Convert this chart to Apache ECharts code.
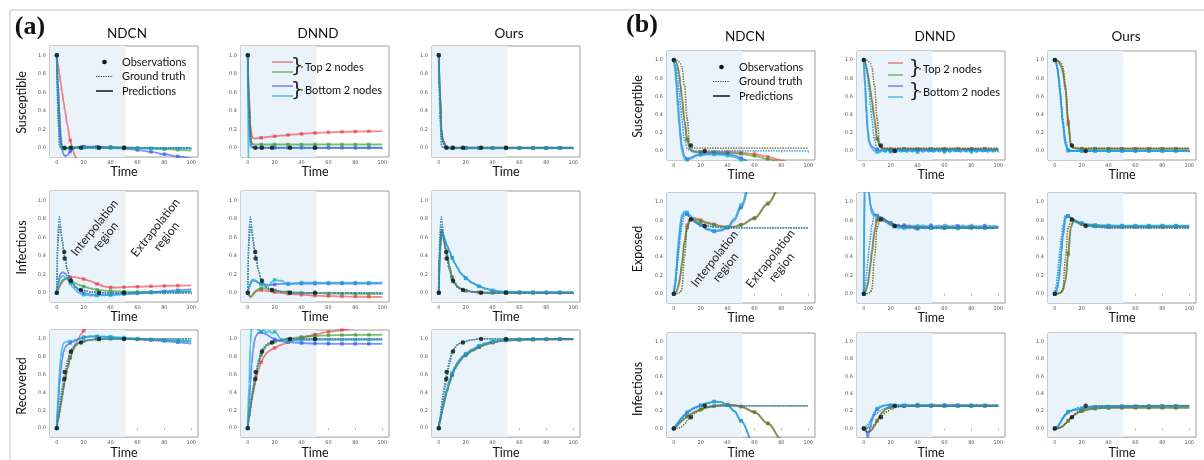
<!DOCTYPE html>
<html><head><meta charset="utf-8">
<script src="https://cdn.jsdelivr.net/npm/echarts@6/dist/echarts.min.js"></script>
<style>html,body{margin:0;padding:0;background:#fff}#c{width:1204px;height:460px}</style>
</head><body><div id="c"></div>
<script>
// ---------- time grids ----------
const T  = [0,1,2,3,4,5,6,8,10,12,14,16,18,20,25,30,35,40,45,50,60,70,80,90,100];
const TJ = [0,1,2,3,4,5,6,7,8,9,10,12,14,16,18,20,22,24,26,28,30,32,34,36,38,40,42,44,46,48,50,52,54,56,58,60,62,64,66,68,70,72,74,76,78,80,82,84,86,88,90,92,94,96,98,100];
const X_TICKS = [0,20,40,60,80,100];
const Y_TICKS = [0,0.2,0.4,0.6,0.8,1.0];
const SHADE_RANGE = [-5, 51];
const COL_TITLES = ['NDCN','DNND','Ours'];
const ROW_TITLES_A = ['Susceptible','Infectious','Recovered'];
const ROW_TITLES_B = ['Susceptible','Exposed','Infectious'];

// ---------- panel (a) ground truth & observations ----------
const aS_gtRG = [1,0.55,0.2,0.06,0.015,0,0,0,0,0,0,0,0,0,0,0,0,0,0,0,0,0,0,0,0];
const aS_gtBC = [1,0.3,0.03,0,0,0,0,0,0,0,0,0,0,0,0,0,0,0,0,0,0,0,0,0,0];
const aI_gtRG = [0,0.55,0.72,0.67,0.56,0.46,0.38,0.24,0.14,0.09,0.06,0.045,0.035,0.025,0.01,0.003,0,0,0,0,0,0,0,0,0];
const aI_gtBC = [0,0.7,0.82,0.71,0.58,0.47,0.39,0.24,0.14,0.09,0.06,0.045,0.035,0.025,0.01,0.003,0,0,0,0,0,0,0,0,0];
const aR_gtRG = [0,0.1,0.2,0.3,0.4,0.48,0.56,0.72,0.84,0.9,0.93,0.95,0.965,0.975,0.99,1,1,1,1,1,1,1,1,1,1];
const aR_gtBC = [0,0.12,0.25,0.36,0.46,0.55,0.63,0.76,0.86,0.91,0.94,0.955,0.965,0.975,0.99,1,1,1,1,1,1,1,1,1,1];
const aS_obs = [[0,1],[5.7,0],[10.6,0],[18,0],[31.5,0],[50,0]];
const aI_obs = [[0,0],[5.6,0.44],[5.9,0.37],[10.6,0.13],[18,0.03],[31.5,0],[50,0]];
const aR_obs = [[0,0],[5.6,0.55],[5.9,0.63],[10.6,0.86],[18,0.96],[31.5,1],[50,1]];

// ---------- panel (a) NDCN ----------
const aN_S_red   = [1,0.9,0.8,0.7,0.6,0.5,0.41,0.24,0.08,-0.03,-0.1,-0.16,-0.22,-0.28,-0.4,-0.5,-0.6,-0.7,-0.8,-0.9,-1,-1.1,-1.2,-1.3,-1.4];
const aN_S_green = [1,0.6,0.25,0.06,-0.01,-0.02,-0.02,-0.01,0,0.005,0.008,0.01,0.01,0.01,0.01,0.01,0.01,0.01,0.008,0.005,0,-0.008,-0.015,-0.022,-0.03];
const aN_S_blue  = [1,0.7,0.4,0.15,-0.02,-0.07,-0.09,-0.08,-0.04,-0.015,0,0.008,0.01,0.012,0.012,0.01,0.007,0.003,-0.002,-0.008,-0.025,-0.045,-0.07,-0.093,-0.12];
const aN_S_cyan  = [1,0.45,0.1,-0.01,-0.02,-0.015,-0.01,-0.005,0,0,0,0,0,0,0,-0.003,-0.005,-0.005,-0.006,-0.008,-0.01,-0.01,-0.01,-0.01,-0.01];
const aN_I_red   = [0,0.03,0.06,0.09,0.11,0.13,0.145,0.16,0.168,0.17,0.168,0.162,0.155,0.148,0.125,0.095,0.07,0.057,0.057,0.06,0.065,0.07,0.074,0.077,0.08];
const aN_I_green = [0,0.04,0.08,0.11,0.13,0.145,0.15,0.15,0.14,0.12,0.1,0.087,0.077,0.068,0.047,0.032,0.024,0.018,0.015,0.012,0.01,0.01,0.01,0.01,0.01];
const aN_I_blue  = [0,0.1,0.17,0.21,0.22,0.22,0.21,0.18,0.14,0.1,0.065,0.035,0.012,-0.003,-0.018,-0.022,-0.022,-0.02,-0.016,-0.012,-0.004,0.006,0.016,0.028,0.04];
const aN_I_cyan  = [0,0.08,0.14,0.17,0.18,0.18,0.17,0.14,0.1,0.06,0.03,0.005,-0.012,-0.022,-0.03,-0.03,-0.028,-0.025,-0.02,-0.015,-0.008,0,0.008,0.014,0.02];
const aN_R_red   = [0,0.09,0.18,0.27,0.36,0.45,0.53,0.67,0.79,0.88,0.95,1,1.05,1.09,1.2,1.3,1.4,1.5,1.6,1.7,1.8,1.9,2,2.1,2.2];
const aN_R_green = [0,0.08,0.16,0.25,0.34,0.43,0.52,0.67,0.79,0.87,0.92,0.95,0.965,0.975,0.99,0.995,1,1,1,1,0.995,0.99,0.985,0.98,0.975];
const aN_R_blue  = [0,0.25,0.48,0.65,0.77,0.85,0.9,0.935,0.955,0.97,0.985,0.995,1.005,1.015,1.025,1.025,1.022,1.018,1.012,1.006,0.997,0.987,0.976,0.962,0.945];
const aN_R_cyan  = [0,0.35,0.62,0.8,0.9,0.95,0.965,0.97,0.97,0.975,0.99,1,1.01,1.02,1.03,1.03,1.028,1.025,1.02,1.015,1.005,0.995,0.985,0.977,0.97];

// ---------- panel (a) DNND ----------
const aD_S_red   = [1,0.55,0.25,0.13,0.105,0.1,0.1,0.104,0.108,0.112,0.115,0.118,0.121,0.124,0.131,0.138,0.144,0.15,0.155,0.16,0.166,0.171,0.175,0.178,0.18];
const aD_S_green = [1,0.45,0.12,0.05,0.04,0.036,0.035,0.035,0.035,0.035,0.035,0.035,0.035,0.035,0.035,0.035,0.035,0.035,0.035,0.035,0.035,0.035,0.035,0.035,0.035];
const aD_S_blue  = [1,0.3,0.05,0.012,0.005,0.002,0,0,0,0,0,0,0,0,0,0,0,0,0,0,0,0,0,0,0];
const aD_S_cyan  = [1,-0.7,-1,-1,-1,-1,-1,-1,-1,-1,-1,-1,-1,-1,-1,-1,-1,-1,-1,-1,-1,-1,-1,-1,-1];
const aD_I_red   = [0,-0.03,-0.04,-0.03,-0.012,0.003,0.013,0.024,0.028,0.026,0.021,0.016,0.011,0.006,-0.003,-0.01,-0.016,-0.021,-0.026,-0.03,-0.036,-0.04,-0.042,-0.044,-0.045];
const aD_I_green = [0,-0.03,-0.05,-0.04,-0.02,0,0.02,0.04,0.05,0.05,0.045,0.038,0.031,0.025,0.015,0.009,0.004,0,-0.003,-0.005,-0.008,-0.01,-0.011,-0.012,-0.012];
const aD_I_blue  = [0,0.05,0.09,0.12,0.13,0.13,0.125,0.11,0.1,0.092,0.087,0.085,0.087,0.09,0.095,0.099,0.1,0.1,0.1,0.1,0.1,0.1,0.1,0.1,0.1];
const aD_I_cyan  = [0,0.06,0.11,0.14,0.145,0.14,0.13,0.11,0.09,0.076,0.07,0.08,0.12,0.14,0.13,0.09,0.1,0.11,0.11,0.11,0.11,0.11,0.11,0.11,0.11];
const aD_R_red   = [0,0.12,0.22,0.32,0.4,0.47,0.54,0.65,0.74,0.8,0.84,0.865,0.885,0.9,0.935,0.965,0.99,1.01,1.03,1.05,1.08,1.1,1.12,1.14,1.16];
const aD_R_green = [0,0.12,0.24,0.34,0.44,0.52,0.6,0.72,0.82,0.88,0.92,0.94,0.955,0.968,0.985,1,1.012,1.022,1.03,1.035,1.04,1.043,1.045,1.046,1.047];
const aD_R_blue  = [0,0.25,0.5,0.72,0.88,0.98,1.03,1.07,1.075,1.065,1.05,1.03,1.01,0.995,0.975,0.965,0.958,0.953,0.95,0.948,0.946,0.945,0.945,0.945,0.945];
const aD_R_cyan  = [0,0.5,0.95,1.15,1.2,1.18,1.15,1.1,1.08,1.1,1.07,1.09,1.06,1.08,1,0.97,0.98,0.985,0.988,0.99,0.99,0.99,0.99,0.99,0.99];

// ---------- panel (a) Ours ----------
const aO_S_red   = [1,0.6,0.2,0.1,0.06,0.03,0.01,0,0,0,0,0,0,0,0,0,0,0,0,0,0,0,0,0,0];
const aO_S_green = [1,0.58,0.18,0.09,0.05,0.025,0.01,0.002,0,0,0,0,0,0,0,0,0,0,0,0,0,0,0,0,0];
const aO_S_blue  = [1,0.55,0.13,0.08,0.05,0.02,0,-0.005,-0.005,-0.005,-0.005,-0.005,-0.005,-0.005,-0.005,-0.005,-0.005,-0.005,-0.005,-0.005,-0.005,-0.005,-0.005,-0.005,-0.005];
const aO_S_cyan  = [1,0.5,0.1,0.07,0.04,0.015,0,-0.006,-0.006,-0.006,-0.006,-0.006,-0.006,-0.006,-0.006,-0.006,-0.006,-0.006,-0.006,-0.006,-0.006,-0.006,-0.006,-0.006,-0.006];
const aO_I_red   = [0,0.45,0.66,0.62,0.55,0.48,0.42,0.28,0.16,0.1,0.065,0.045,0.03,0.02,0.01,0.003,0,0,0,0,0,0,0,0,0];
const aO_I_green = [0,0.45,0.67,0.63,0.56,0.49,0.43,0.29,0.17,0.11,0.07,0.05,0.035,0.025,0.012,0.004,0.001,0,0,0,0,0,0,0,0];
const aO_I_blue  = [0,0.5,0.68,0.64,0.6,0.56,0.52,0.45,0.38,0.32,0.27,0.22,0.19,0.16,0.11,0.07,0.045,0.025,0.015,0.01,0.006,0.005,0.005,0.005,0.005];
const aO_I_cyan  = [0,0.48,0.67,0.635,0.595,0.555,0.515,0.445,0.375,0.315,0.265,0.215,0.185,0.155,0.105,0.068,0.043,0.024,0.014,0.009,0.006,0.005,0.005,0.005,0.005];
const aO_R_red   = [0,0.08,0.15,0.22,0.29,0.35,0.41,0.51,0.6,0.67,0.72,0.76,0.8,0.82,0.87,0.91,0.94,0.96,0.975,0.985,0.99,0.993,0.995,0.995,0.995];
const aO_R_green = [0,0.08,0.15,0.22,0.28,0.34,0.4,0.5,0.59,0.66,0.71,0.755,0.79,0.815,0.865,0.905,0.935,0.958,0.972,0.982,0.988,0.991,0.993,0.994,0.994];
const aO_R_blue  = [0,0.09,0.17,0.24,0.31,0.37,0.43,0.53,0.61,0.68,0.73,0.77,0.805,0.83,0.88,0.92,0.95,0.97,0.98,0.99,0.995,1,1,1,1];
const aO_R_cyan  = [0,0.09,0.17,0.24,0.31,0.37,0.43,0.53,0.62,0.69,0.74,0.78,0.81,0.835,0.885,0.925,0.953,0.972,0.982,0.99,0.995,1,1,1,1];

// ---------- panel (b) ground truth & observations ----------
const bS_gtRG = [1,1,1,0.99,0.98,0.96,0.93,0.72,0.35,0.06,0.03,0.03,0.03,0.03,0.03,0.03,0.03,0.03,0.03,0.03,0.03,0.03,0.03,0.03,0.03];
const bS_gtBC = [1,0.97,0.9,0.8,0.66,0.5,0.35,0.12,0.03,0.005,0,0,0,0,0,0,0,0,0,0,0,0,0,0,0];
const bE_gtRG = [0,0,0.002,0.005,0.01,0.02,0.05,0.4,0.72,0.8,0.81,0.79,0.775,0.762,0.742,0.73,0.725,0.72,0.72,0.72,0.72,0.72,0.72,0.72,0.72];
const bE_gtBC = [0,0.08,0.2,0.35,0.5,0.63,0.74,0.86,0.86,0.83,0.8,0.78,0.765,0.752,0.737,0.728,0.722,0.72,0.72,0.72,0.72,0.72,0.72,0.72,0.72];
const bI_gtRG = [0,0,0.001,0.003,0.006,0.01,0.02,0.05,0.09,0.12,0.15,0.18,0.2,0.22,0.245,0.255,0.26,0.26,0.26,0.26,0.26,0.26,0.26,0.26,0.26];
const bI_gtBC = [0,0.01,0.03,0.05,0.07,0.09,0.11,0.15,0.18,0.2,0.22,0.232,0.242,0.248,0.255,0.26,0.26,0.26,0.26,0.26,0.26,0.26,0.26,0.26,0.26];
const bS_obs = [[0,1],[12.8,0.06],[23,0]];
const bE_obs = [[0,0],[12.8,0.81],[23,0.74]];
const bI_obs = [[0,0],[12.8,0.13],[23,0.26]];

// ---------- panel (b) NDCN ----------
const bN_S_red   = [1,0.99,0.97,0.93,0.85,0.74,0.6,0.34,0.13,0.03,0,-0.008,-0.01,-0.01,-0.01,-0.01,-0.01,-0.01,-0.013,-0.018,-0.035,-0.065,-0.105,-0.15,-0.2];
const bN_S_green = [1,0.99,0.97,0.92,0.84,0.72,0.58,0.32,0.12,0.02,-0.008,-0.014,-0.016,-0.017,-0.018,-0.019,-0.02,-0.022,-0.026,-0.032,-0.055,-0.09,-0.13,-0.18,-0.23];
const bN_S_blue  = [1,0.93,0.78,0.58,0.38,0.2,0.06,-0.06,-0.09,-0.08,-0.065,-0.05,-0.04,-0.035,-0.03,-0.03,-0.032,-0.036,-0.05,-0.08,-0.16,-0.25,-0.35,-0.45,-0.55];
const bN_S_cyan  = [1,0.9,0.7,0.48,0.28,0.12,0,-0.09,-0.1,-0.09,-0.075,-0.06,-0.05,-0.045,-0.04,-0.04,-0.044,-0.052,-0.068,-0.1,-0.18,-0.27,-0.37,-0.47,-0.57];
const bN_E_red   = [0,0.01,0.03,0.07,0.13,0.22,0.34,0.58,0.75,0.82,0.83,0.825,0.815,0.805,0.78,0.76,0.74,0.73,0.735,0.755,0.83,0.99,1.2,1.4,1.6];
const bN_E_green = [0,0.01,0.03,0.06,0.11,0.19,0.3,0.55,0.72,0.8,0.82,0.81,0.8,0.79,0.77,0.75,0.735,0.725,0.73,0.75,0.82,0.98,1.19,1.4,1.6];
const bN_E_blue  = [0,0.1,0.25,0.42,0.58,0.72,0.83,0.88,0.87,0.84,0.81,0.78,0.76,0.75,0.7,0.68,0.69,0.72,0.8,0.94,1.4,1.9,2.4,2.9,3.4];
const bN_E_cyan  = [0,0.12,0.3,0.5,0.66,0.78,0.86,0.9,0.89,0.86,0.83,0.8,0.77,0.755,0.71,0.69,0.7,0.73,0.82,0.97,1.45,1.95,2.45,2.95,3.45];
const bN_I_red   = [0,0.015,0.03,0.045,0.06,0.075,0.09,0.115,0.14,0.16,0.18,0.195,0.21,0.22,0.245,0.26,0.27,0.275,0.27,0.255,0.19,0.06,-0.12,-0.35,-0.6];
const bN_I_green = [0,0.012,0.025,0.04,0.055,0.07,0.085,0.11,0.135,0.155,0.175,0.19,0.2,0.215,0.24,0.255,0.265,0.27,0.265,0.25,0.185,0.055,-0.13,-0.36,-0.62];
const bN_I_blue  = [0,0.02,0.04,0.06,0.08,0.1,0.12,0.15,0.18,0.205,0.225,0.24,0.255,0.265,0.29,0.31,0.305,0.27,0.2,0.09,-0.2,-0.6,-1,-1.4,-1.8];
const bN_I_cyan  = [0,0.025,0.05,0.07,0.09,0.11,0.13,0.16,0.19,0.21,0.23,0.245,0.258,0.268,0.292,0.31,0.303,0.268,0.198,0.088,-0.2,-0.6,-1,-1.4,-1.8];

// ---------- panel (b) DNND (blue/cyan sampled on TJ) ----------
const bD_S_red   = [1,0.98,0.93,0.86,0.77,0.67,0.57,0.36,0.14,0.05,0.03,0.025,0.022,0.02,0.022,0.02,0.023,0.02,0.022,0.02,0.021,0.02,0.022,0.02,0.021];
const bD_S_green = [1,0.97,0.92,0.84,0.75,0.65,0.55,0.34,0.13,0.045,0.028,0.022,0.02,0.018,0.02,0.017,0.021,0.018,0.02,0.018,0.02,0.019,0.02,0.018,0.02];
const bD_S_blue  = [1,0.7,0.4,0.2,0.1,0.07,0.05,0.04,0.03,0.02,0.015,0.003,0.02,0,0.022,-0.002,0.018,0.004,0.02,-0.001,0.021,0.002,0.019,-0.003,0.02,0.001,0.022,-0.001,0.018,0.003,0.02,0,0.021,-0.002,0.019,0.002,0.02,-0.001,0.022,0.001,0.018,0,0.02,-0.002,0.021,0.002,0.019,0,0.02,-0.001,0.022,0.001,0.018,0,0.02,0.005];
const bD_S_cyan  = [1,0.8,0.5,0.25,0.12,0.06,0.03,0.01,0,-0.01,-0.015,-0.012,0.008,-0.015,0.01,-0.01,0.006,-0.014,0.009,-0.011,0.007,-0.013,0.01,-0.01,0.008,-0.015,0.006,-0.012,0.009,-0.01,0.007,-0.014,0.01,-0.011,0.008,-0.012,0.006,-0.015,0.009,-0.01,0.007,-0.013,0.01,-0.011,0.008,-0.012,0.006,-0.014,0.009,-0.01,0.007,-0.013,0.008,-0.011,0.009,-0.01];
const bD_E_red   = [0,0.02,0.06,0.12,0.22,0.34,0.47,0.7,0.82,0.84,0.83,0.81,0.79,0.775,0.75,0.735,0.73,0.725,0.73,0.72,0.728,0.722,0.73,0.72,0.725];
const bD_E_green = [0,0.02,0.05,0.1,0.19,0.3,0.43,0.66,0.8,0.83,0.825,0.805,0.785,0.77,0.745,0.73,0.725,0.72,0.726,0.716,0.724,0.718,0.726,0.717,0.72];
const bD_E_blue  = [0,1.5,1.4,1.2,1.08,0.98,0.92,0.89,0.87,0.86,0.855,0.84,0.82,0.8,0.785,0.77,0.75,0.72,0.755,0.718,0.75,0.715,0.748,0.72,0.745,0.71,0.745,0.72,0.742,0.716,0.748,0.712,0.745,0.72,0.74,0.715,0.748,0.718,0.745,0.712,0.742,0.72,0.748,0.715,0.744,0.718,0.745,0.712,0.742,0.72,0.745,0.716,0.743,0.718,0.74,0.72];
const bD_E_cyan  = [0,1.6,1.6,1.3,1.1,0.95,0.88,0.86,0.865,0.855,0.85,0.83,0.81,0.795,0.78,0.765,0.72,0.75,0.71,0.745,0.715,0.75,0.712,0.745,0.705,0.742,0.718,0.748,0.71,0.745,0.715,0.742,0.712,0.748,0.71,0.745,0.715,0.742,0.708,0.748,0.712,0.745,0.715,0.74,0.71,0.745,0.714,0.742,0.71,0.745,0.715,0.742,0.712,0.744,0.716,0.74];
const bD_I_red   = [0,-0.02,-0.035,-0.04,-0.035,-0.025,-0.01,0.03,0.09,0.15,0.19,0.22,0.24,0.25,0.258,0.262,0.26,0.264,0.26,0.263,0.26,0.264,0.26,0.263,0.26];
const bD_I_green = [0,-0.02,-0.04,-0.045,-0.04,-0.03,-0.015,0.025,0.085,0.145,0.185,0.215,0.235,0.245,0.255,0.258,0.256,0.26,0.257,0.26,0.256,0.26,0.257,0.26,0.256];
const bD_I_blue  = [0,0,-0.02,-0.15,-0.05,0.02,0.08,0.13,0.17,0.2,0.22,0.24,0.26,0.265,0.27,0.268,0.258,0.272,0.26,0.27,0.256,0.274,0.26,0.27,0.258,0.275,0.262,0.27,0.257,0.272,0.26,0.276,0.258,0.27,0.26,0.273,0.256,0.27,0.261,0.274,0.258,0.27,0.26,0.272,0.257,0.27,0.26,0.273,0.258,0.27,0.26,0.272,0.257,0.27,0.26,0.268];
const bD_I_cyan  = [0,0,0,0.01,0.04,0.08,0.12,0.16,0.19,0.21,0.23,0.25,0.26,0.262,0.268,0.265,0.27,0.258,0.272,0.26,0.27,0.256,0.272,0.26,0.274,0.258,0.27,0.26,0.273,0.257,0.27,0.26,0.272,0.258,0.27,0.26,0.274,0.257,0.27,0.26,0.272,0.258,0.27,0.26,0.273,0.257,0.27,0.26,0.272,0.258,0.27,0.26,0.272,0.258,0.27,0.262];

// ---------- panel (b) Ours ----------
const bO_S_red   = [1,1,0.99,0.98,0.96,0.93,0.88,0.7,0.32,0.08,0.035,0.028,0.026,0.025,0.025,0.025,0.025,0.025,0.025,0.025,0.025,0.025,0.025,0.025,0.025];
const bO_S_green = [1,1,0.99,0.975,0.955,0.92,0.86,0.66,0.29,0.07,0.032,0.026,0.024,0.023,0.023,0.023,0.023,0.023,0.023,0.023,0.023,0.023,0.023,0.023,0.023];
const bO_S_blue  = [1,0.98,0.92,0.82,0.66,0.5,0.32,0.08,0.005,0,0,0,0,0,0,0,0,0,0,0,0,0,0,0,0];
const bO_S_cyan  = [1,0.97,0.9,0.78,0.62,0.45,0.28,0.06,0.002,-0.002,-0.002,-0.002,-0.002,-0.002,-0.002,-0.002,-0.002,-0.002,-0.002,-0.002,-0.002,-0.002,-0.002,-0.002,-0.002];
const bO_E_red   = [0,0,0.003,0.006,0.01,0.02,0.04,0.15,0.45,0.74,0.8,0.79,0.775,0.765,0.75,0.74,0.735,0.73,0.73,0.73,0.73,0.73,0.73,0.73,0.73];
const bO_E_green = [0,0,0.003,0.006,0.01,0.02,0.04,0.14,0.43,0.72,0.79,0.785,0.77,0.76,0.745,0.735,0.73,0.728,0.727,0.727,0.727,0.727,0.727,0.727,0.727];
const bO_E_blue  = [0,0.02,0.06,0.14,0.28,0.45,0.62,0.82,0.85,0.83,0.81,0.795,0.782,0.772,0.758,0.75,0.746,0.745,0.745,0.745,0.745,0.745,0.745,0.745,0.745];
const bO_E_cyan  = [0,0.02,0.07,0.16,0.31,0.48,0.65,0.84,0.85,0.825,0.805,0.79,0.778,0.768,0.755,0.748,0.745,0.743,0.742,0.742,0.742,0.742,0.742,0.742,0.742];
const bO_I_red   = [0,0,0,0.005,0.01,0.02,0.03,0.06,0.09,0.12,0.15,0.17,0.19,0.2,0.22,0.23,0.235,0.238,0.24,0.24,0.24,0.24,0.24,0.24,0.24];
const bO_I_green = [0,0,0,0.004,0.009,0.018,0.028,0.057,0.088,0.118,0.148,0.168,0.187,0.198,0.218,0.228,0.233,0.236,0.237,0.238,0.238,0.238,0.238,0.238,0.238];
const bO_I_blue  = [0,0,0.01,0.03,0.06,0.09,0.12,0.16,0.19,0.2,0.21,0.215,0.22,0.225,0.235,0.245,0.25,0.25,0.252,0.255,0.255,0.258,0.26,0.26,0.26];
const bO_I_cyan  = [0,0,0.012,0.035,0.065,0.095,0.125,0.165,0.195,0.205,0.213,0.218,0.223,0.228,0.238,0.247,0.252,0.253,0.255,0.257,0.258,0.26,0.262,0.262,0.262];

// ---------- styling / layout ----------
const COLORS = {red:'#e8262b', green:'#2a972a', blue:'#2a48ff', cyan:'#18b6cc'};
const OPAC = {red:0.55, green:0.62, blue:0.6, cyan:0.72};
const ORDER = ['red','green','blue','cyan'];
const SHADE = '#eaf2fa';
const FONT = 'Lato';
const A_COLS = [50,241,432], B_COLS = [667,857,1048], W = 148;
const A_ROWS = [[46,111],[191,111],[330,110]], B_ROWS = [[51,109],[193,110],[333,110]];

const P = (t,y)=>({t,y});
const plots = [
  {x:A_COLS[0],r:A_ROWS[0],p:[P(T,aN_S_red),P(T,aN_S_green),P(T,aN_S_blue),P(T,aN_S_cyan)],gt:[aS_gtRG,aS_gtBC],obs:aS_obs},
  {x:A_COLS[1],r:A_ROWS[0],p:[P(T,aD_S_red),P(T,aD_S_green),P(T,aD_S_blue),P(T,aD_S_cyan)],gt:[aS_gtRG,aS_gtBC],obs:aS_obs},
  {x:A_COLS[2],r:A_ROWS[0],p:[P(T,aO_S_red),P(T,aO_S_green),P(T,aO_S_blue),P(T,aO_S_cyan)],gt:[aS_gtRG,aS_gtBC],obs:aS_obs},
  {x:A_COLS[0],r:A_ROWS[1],p:[P(T,aN_I_red),P(T,aN_I_green),P(T,aN_I_blue),P(T,aN_I_cyan)],gt:[aI_gtRG,aI_gtBC],obs:aI_obs},
  {x:A_COLS[1],r:A_ROWS[1],p:[P(T,aD_I_red),P(T,aD_I_green),P(T,aD_I_blue),P(T,aD_I_cyan)],gt:[aI_gtRG,aI_gtBC],obs:aI_obs},
  {x:A_COLS[2],r:A_ROWS[1],p:[P(T,aO_I_red),P(T,aO_I_green),P(T,aO_I_blue),P(T,aO_I_cyan)],gt:[aI_gtRG,aI_gtBC],obs:aI_obs},
  {x:A_COLS[0],r:A_ROWS[2],p:[P(T,aN_R_red),P(T,aN_R_green),P(T,aN_R_blue),P(T,aN_R_cyan)],gt:[aR_gtRG,aR_gtBC],obs:aR_obs},
  {x:A_COLS[1],r:A_ROWS[2],p:[P(T,aD_R_red),P(T,aD_R_green),P(T,aD_R_blue),P(T,aD_R_cyan)],gt:[aR_gtRG,aR_gtBC],obs:aR_obs},
  {x:A_COLS[2],r:A_ROWS[2],p:[P(T,aO_R_red),P(T,aO_R_green),P(T,aO_R_blue),P(T,aO_R_cyan)],gt:[aR_gtRG,aR_gtBC],obs:aR_obs},
  {x:B_COLS[0],r:B_ROWS[0],p:[P(T,bN_S_red),P(T,bN_S_green),P(T,bN_S_blue),P(T,bN_S_cyan)],gt:[bS_gtRG,bS_gtBC],obs:bS_obs},
  {x:B_COLS[1],r:B_ROWS[0],p:[P(T,bD_S_red),P(T,bD_S_green),P(TJ,bD_S_blue),P(TJ,bD_S_cyan)],gt:[bS_gtRG,bS_gtBC],obs:bS_obs},
  {x:B_COLS[2],r:B_ROWS[0],p:[P(T,bO_S_red),P(T,bO_S_green),P(T,bO_S_blue),P(T,bO_S_cyan)],gt:[bS_gtRG,bS_gtBC],obs:bS_obs},
  {x:B_COLS[0],r:B_ROWS[1],p:[P(T,bN_E_red),P(T,bN_E_green),P(T,bN_E_blue),P(T,bN_E_cyan)],gt:[bE_gtRG,bE_gtBC],obs:bE_obs},
  {x:B_COLS[1],r:B_ROWS[1],p:[P(T,bD_E_red),P(T,bD_E_green),P(TJ,bD_E_blue),P(TJ,bD_E_cyan)],gt:[bE_gtRG,bE_gtBC],obs:bE_obs},
  {x:B_COLS[2],r:B_ROWS[1],p:[P(T,bO_E_red),P(T,bO_E_green),P(T,bO_E_blue),P(T,bO_E_cyan)],gt:[bE_gtRG,bE_gtBC],obs:bE_obs},
  {x:B_COLS[0],r:B_ROWS[2],p:[P(T,bN_I_red),P(T,bN_I_green),P(T,bN_I_blue),P(T,bN_I_cyan)],gt:[bI_gtRG,bI_gtBC],obs:bI_obs},
  {x:B_COLS[1],r:B_ROWS[2],p:[P(T,bD_I_red),P(T,bD_I_green),P(TJ,bD_I_blue),P(TJ,bD_I_cyan)],gt:[bI_gtRG,bI_gtBC],obs:bI_obs},
  {x:B_COLS[2],r:B_ROWS[2],p:[P(T,bO_I_red),P(T,bO_I_green),P(T,bO_I_blue),P(T,bO_I_cyan)],gt:[bI_gtRG,bI_gtBC],obs:bI_obs},
];

const grids=[], xAxes=[], yAxes=[], series=[];
plots.forEach((pl,i)=>{
  grids.push({left:pl.x, top:pl.r[0], width:W, height:pl.r[1], show:true, borderColor:'#9c9c9c', borderWidth:1, backgroundColor:'#fff', containLabel:false});
  xAxes.push({gridIndex:i, type:'value', min:-5, max:105,
    splitLine:{show:false}, axisLine:{show:false},
    axisTick:{show:true, length:2, customValues:X_TICKS, lineStyle:{color:'#777',width:0.6}},
    axisLabel:{customValues:X_TICKS, fontSize:5, color:'#555', margin:3, fontFamily:'DejaVu Sans'},
    name:'Time', nameLocation:'middle', nameGap:6, nameTextStyle:{fontFamily:FONT, fontSize:12.5, color:'#111'}});
  yAxes.push({gridIndex:i, type:'value', min:-0.1, max:1.1,
    splitLine:{show:false}, axisLine:{show:false},
    axisTick:{show:true, length:2, customValues:Y_TICKS, lineStyle:{color:'#777',width:0.6}},
    axisLabel:{customValues:Y_TICKS, fontSize:5, color:'#555', margin:4, fontFamily:'DejaVu Sans', formatter:v=>v.toFixed(1)}});
  series.push({type:'line', xAxisIndex:i, yAxisIndex:i, data:[[200,200]], showSymbol:false, silent:true, z:1,
    lineStyle:{opacity:0}, animation:false,
    markArea:{silent:true, itemStyle:{color:SHADE}, data:[[{xAxis:SHADE_RANGE[0]},{xAxis:SHADE_RANGE[1]}]]}});
  pl.p.forEach((c,k)=>{
    const col = COLORS[ORDER[k]], op = OPAC[ORDER[k]];
    series.push({type:'line', xAxisIndex:i, yAxisIndex:i, z:2, animation:false, silent:true,
      smooth:0.35, smoothMonotone:'x', clip:true, showSymbol:true, showAllSymbol:true, symbol:'rect', symbolSize:3.5,
      lineStyle:{color:col, width:1.8, opacity:op}, itemStyle:{color:col, opacity:op},
      data:c.t.map((t,j)=>({value:[t,c.y[j]], symbol:(t%10===0 && t<100)?'rect':'none'}))});
  });
  ORDER.forEach((name,k)=>{
    const gg = k<2 ? pl.gt[0] : pl.gt[1];
    series.push({type:'line', xAxisIndex:i, yAxisIndex:i, z:3, animation:false, silent:true,
      smooth:0.35, smoothMonotone:'x', showSymbol:false, clip:true,
      lineStyle:{color:COLORS[name], width:1.3, type:'dotted', opacity:0.75},
      data:T.map((t,j)=>[t,gg[j]])});
  });
  series.push({type:'scatter', xAxisIndex:i, yAxisIndex:i, z:4, animation:false, silent:true,
    symbolSize:4.5, itemStyle:{color:'#111'}, data:pl.obs});
});

const g = [];
const txt = (x,y,text,size,opts={})=>g.push(Object.assign({type:'text', x, y, z:10, style:{text, font:`${opts.weight||'normal'} ${size}px ${opts.family||FONT}`, fill:opts.fill||'#111',
  align:opts.align||'center', textAlign:opts.align||'center', verticalAlign:'middle', textVerticalAlign:'middle', lineHeight:opts.lh||size}}, opts.rot?{rotation:opts.rot}:{}));
const ln = (x1,y1,x2,y2,stroke,w,dash,op)=>g.push({type:'line', z:10, shape:{x1,y1,x2,y2}, style:{stroke, lineWidth:w, lineDash:dash||null, opacity:op==null?1:op}});

ln(10,10,1204,10,'#c4c4c4',1);
ln(10,10,10,460,'#c4c4c4',1);
txt(30,27,'(a)',26,{weight:'bold', family:'Liberation Serif'});
txt(642,25,'(b)',26,{weight:'bold', family:'Liberation Serif'});
COL_TITLES.forEach((s,k)=>{ txt(A_COLS[k]+W/2+3,34,s,13.5); txt(B_COLS[k]+W/2+4,37,s,13.5); });
ROW_TITLES_A.forEach((s,k)=>txt(22,A_ROWS[k][0]+A_ROWS[k][1]/2+1,s,12.5,{rot:Math.PI/2}));
ROW_TITLES_B.forEach((s,k)=>txt(638,B_ROWS[k][0]+B_ROWS[k][1]/2+1,s,12.5,{rot:Math.PI/2}));
const ROT = 0.9;
txt(100,232,'Interpolation\nregion',12,{rot:ROT, lh:14, fill:'#222'});
txt(161,232,'Extrapolation\nregion',12,{rot:ROT, lh:14, fill:'#222'});
txt(720,263,'Interpolation\nregion',12,{rot:ROT, lh:14, fill:'#222'});
txt(776,263,'Extrapolation\nregion',12,{rot:ROT, lh:14, fill:'#222'});

function legend1(bx,by){
  g.push({type:'circle', z:10, shape:{cx:bx+54.5, cy:by+16, r:2.3}, style:{fill:'#111'}});
  ln(bx+46,by+30.5,bx+63,by+30.5,'#333',1.2,[1.2,1.2]);
  ln(bx+46,by+45,bx+63,by+45,'#222',1.6);
  txt(bx+72,by+16,'Observations',11,{align:'left'});
  txt(bx+72,by+30.5,'Ground truth',11,{align:'left'});
  txt(bx+72,by+45,'Predictions',11,{align:'left'});
}
legend1(A_COLS[0],A_ROWS[0][0]);
legend1(B_COLS[0],B_ROWS[0][0]);
function legend2(bx,by,ys,lx2,bxr,tx,ty1,ty2){
  ORDER.forEach((n,k)=>ln(bx+31,by+ys[k],bx+lx2,by+ys[k],COLORS[n],1.6,null,OPAC[n]));
  [[ys[0],ys[1],ty1],[ys[2],ys[3],ty2]].forEach(([a,b,ty])=>{
    txt(bx+bxr,by+(a+b)/2,'}',20,{family:'DejaVu Sans', fill:'#222'});
    ln(bx+bxr+4,by+ty,bx+tx-2,by+ty,'#222',1);
  });
  txt(bx+tx,by+ty1,'Top 2 nodes',11,{align:'left'});
  txt(bx+tx,by+ty2,'Bottom 2 nodes',11,{align:'left'});
}
legend2(A_COLS[1],A_ROWS[0][0],[16,26,40,50],52,56,64,21,44);
legend2(B_COLS[1],B_ROWS[0][0],[12,24,35,46],46,58,66,18,41);

const chart = echarts.init(document.getElementById('c'), null, {renderer:'canvas'});
chart.setOption({animation:false, grid:grids, xAxis:xAxes, yAxis:yAxes, series, graphic:{elements:g}});
</script></body></html>
